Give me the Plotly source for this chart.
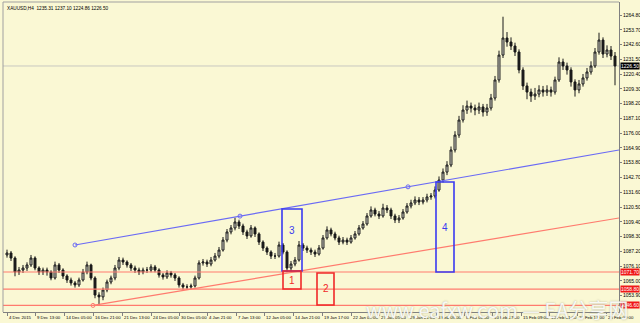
import plotly.graph_objects as go

# ---------------- data ----------------
closes = [1086.0, 1082.2, 1071.7, 1073.2, 1074.7, 1077.0, 1082.2, 1074.7, 1071.7, 1073.2,
          1071.7, 1067.2, 1077.0, 1073.2, 1068.7, 1065.7, 1063.5, 1062.0, 1065.7, 1071.7,
          1077.0, 1067.2, 1054.4, 1053.0, 1058.2, 1064.2, 1067.2, 1074.7, 1080.7, 1079.2,
          1077.0, 1074.7, 1073.2, 1071.7, 1073.2, 1073.2, 1075.5, 1073.2, 1069.5, 1068.0,
          1071.0, 1069.5, 1067.2, 1062.0, 1060.5, 1060.5, 1061.2, 1067.2, 1078.5, 1079.2,
          1077.7, 1080.7, 1083.7, 1088.2, 1095.7, 1101.8, 1104.8, 1109.3, 1106.3, 1101.8,
          1098.8, 1104.8, 1100.3, 1094.2, 1089.7, 1086.7, 1083.7, 1083.7, 1092.0, 1086.7,
          1074.7, 1077.7, 1080.7, 1092.0, 1089.7, 1088.2, 1086.7, 1085.2, 1089.7, 1097.3,
          1103.3, 1100.3, 1097.3, 1094.2, 1095.7, 1094.2, 1097.3, 1100.3, 1104.8, 1107.8,
          1113.8, 1118.3, 1115.3, 1113.8, 1119.8, 1118.3, 1113.8, 1110.8, 1112.3, 1116.8,
          1121.3, 1123.6, 1125.8, 1124.3, 1125.8, 1128.1, 1128.8, 1133.3, 1140.8, 1146.8,
          1152.1, 1163.4, 1174.6, 1185.9, 1193.4, 1196.4, 1194.9, 1193.4, 1195.7, 1191.9,
          1194.9, 1202.4, 1216.0, 1234.7, 1247.5, 1244.5, 1241.5, 1237.0, 1223.5, 1211.5,
          1206.9, 1203.9, 1205.4, 1208.5, 1206.9, 1208.5, 1206.9, 1216.0, 1229.5, 1226.5,
          1223.5, 1214.5, 1208.5, 1213.0, 1217.5, 1222.0, 1226.5, 1237.0, 1246.0, 1235.5,
          1238.5, 1234.0, 1226.5]
highs = [1088.5, 1087.5, 1083.5, 1075.5, 1077.0, 1079.0, 1084.5, 1083.5, 1076.0, 1075.0,
         1075.0, 1073.0, 1079.5, 1078.5, 1074.5, 1070.0, 1067.5, 1065.0, 1067.5, 1074.0,
         1079.5, 1078.0, 1068.5, 1056.5, 1060.0, 1066.0, 1069.0, 1077.0, 1083.0, 1082.5,
         1080.5, 1078.5, 1076.5, 1075.0, 1075.0, 1075.5, 1077.5, 1077.0, 1074.5, 1071.0,
         1073.0, 1072.5, 1071.0, 1068.5, 1063.5, 1062.5, 1063.0, 1069.0, 1080.5, 1081.5,
         1081.0, 1083.0, 1086.0, 1090.5, 1098.0, 1104.0, 1107.0, 1112.5, 1111.0, 1108.0,
         1103.5, 1107.0, 1106.0, 1101.5, 1095.5, 1091.0, 1088.0, 1086.0, 1094.5, 1093.5,
         1088.0, 1080.0, 1083.0, 1095.0, 1093.5, 1091.5, 1090.0, 1088.5, 1092.0, 1099.5,
         1106.0, 1105.0, 1102.0, 1099.0, 1098.0, 1097.5, 1099.5, 1102.5, 1107.0, 1110.0,
         1116.0, 1121.0, 1120.0, 1117.5, 1123.0, 1122.0, 1120.0, 1115.5, 1114.5, 1119.0,
         1123.5, 1126.0, 1128.5, 1128.0, 1128.0, 1130.5, 1131.0, 1136.0, 1143.5, 1149.5,
         1155.0, 1166.0, 1177.5, 1189.0, 1197.0, 1200.5, 1199.0, 1197.5, 1199.0, 1198.0,
         1198.0, 1205.5, 1219.0, 1238.0, 1263.5, 1252.0, 1248.0, 1244.0, 1239.0, 1225.5,
         1214.0, 1209.5, 1210.0, 1212.0, 1211.5, 1212.0, 1211.0, 1218.5, 1233.0, 1232.0,
         1229.0, 1225.5, 1216.5, 1216.0, 1220.5, 1225.0, 1230.0, 1240.0, 1251.5, 1248.0,
         1242.0, 1241.5, 1237.0]
lows = [1082.5, 1080.0, 1068.5, 1069.5, 1071.0, 1072.5, 1075.5, 1073.0, 1069.5, 1069.5,
        1069.0, 1065.5, 1066.0, 1071.0, 1066.5, 1063.5, 1061.5, 1060.0, 1060.5, 1064.5,
        1070.0, 1065.5, 1052.0, 1046.5, 1050.5, 1056.5, 1062.5, 1065.5, 1073.0, 1077.0,
        1075.0, 1072.5, 1071.0, 1069.5, 1070.0, 1071.0, 1071.5, 1071.5, 1067.5, 1066.0,
        1066.5, 1067.5, 1065.0, 1060.0, 1058.5, 1058.3, 1058.8, 1060.0, 1066.0, 1076.5,
        1075.5, 1076.0, 1079.5, 1082.0, 1087.0, 1094.0, 1100.0, 1103.0, 1104.0, 1099.5,
        1096.5, 1097.5, 1098.0, 1092.0, 1087.5, 1084.5, 1081.5, 1081.5, 1082.5, 1085.0,
        1071.5, 1072.5, 1076.0, 1079.5, 1087.5, 1086.0, 1084.5, 1083.0, 1084.0, 1088.5,
        1096.0, 1098.5, 1095.5, 1092.0, 1092.5, 1092.0, 1093.0, 1096.0, 1099.0, 1103.5,
        1106.5, 1112.5, 1113.5, 1111.5, 1112.5, 1116.0, 1111.5, 1108.5, 1108.5, 1111.0,
        1115.5, 1119.5, 1122.0, 1122.0, 1122.5, 1124.0, 1126.0, 1127.0, 1132.0, 1139.0,
        1144.5, 1150.5, 1161.5, 1172.5, 1184.0, 1190.5, 1191.5, 1189.5, 1190.5, 1188.5,
        1189.0, 1193.0, 1200.5, 1214.0, 1232.5, 1241.0, 1238.5, 1234.0, 1221.0, 1208.5,
        1201.5, 1199.5, 1201.0, 1203.0, 1203.5, 1204.0, 1203.5, 1205.0, 1214.5, 1223.5,
        1220.0, 1211.0, 1203.5, 1206.0, 1211.0, 1215.5, 1220.0, 1225.0, 1235.0, 1232.5,
        1233.0, 1231.0, 1212.0]
first_open = 1084.5

y_ticks = [1053.9, 1065.0, 1076.1, 1087.2, 1098.3, 1109.4, 1120.5, 1131.6, 1142.7, 1153.8,
           1164.9, 1176.0, 1187.1, 1198.2, 1209.3, 1220.4, 1231.5, 1242.6, 1253.7, 1264.8]

x_label_pos = [0, 7, 14.25, 21.5, 28.75, 36, 43, 50, 57.25, 64.25, 71.5, 78.75, 86, 93,
               100.25, 107.25, 114.25, 121.25, 128.5, 135.5, 142.5, 149.75]
x_labels = ["4 Dec 2015", "9 Dec 13:00", "14 Dec 05:00", "16 Dec 21:00", "21 Dec 13:00",
            "24 Dec 05:00", "30 Dec 05:00", "4 Jan 21:00", "7 Jan 13:00", "12 Jan 05:00",
            "14 Jan 21:00", "19 Jan 17:00", "22 Jan 09:00", "27 Jan 05:00", "29 Jan 21:00",
            "3 Feb 09:00", "8 Feb 01:00", "10 Feb 17:00", "15 Feb 09:00", "18 Feb 01:00",
            "22 Feb 17:00", "25 Feb 09:00"]

support_levels = [1071.7, 1058.8, 1046.6]
support_labels = ["1071.70", "1058.80", "1046.60"]
current_price = 1226.5
current_label = "1226.50"
header = "XAUUSD,H4  1235.31 1237.10 1224.86 1226.50"

blue_trend = [(17, 1092.0), (153, 1163.4)]
blue_anchors = [(17, 1092.0), (58.25, 1113.7), (100.25, 1135.7)]
red_trend = [(21.5, 1046.6), (153, 1112.3)]

# boxes: (x0, x1, y0, y1, color, label)
boxes = [(68.75, 73.75, 1072.5, 1119.0, "#3A3AF0", "3"),
         (69.0, 73.5, 1058.9, 1072.5, "#F02828", "1"),
         (77.5, 81.75, 1046.9, 1071.0, "#F02828", "2"),
         (107.25, 111.75, 1071.7, 1139.3, "#3A3AF0", "4")]

# ---------------- figure ----------------
idx = list(range(len(closes)))
opens = [first_open] + closes[:-1]

BG = "#FAF8D4"
FONT = "Liberation Sans"

fig = go.Figure()
fig.add_trace(go.Candlestick(
    x=idx, open=opens, high=highs, low=lows, close=closes,
    increasing=dict(line=dict(color="#1A1A1A", width=1), fillcolor="#E6E6DA"),
    decreasing=dict(line=dict(color="#1A1A1A", width=1), fillcolor="#1A1A1A"),
    whiskerwidth=0, showlegend=False, hoverinfo="skip"))

shapes = []
shapes.append(dict(type="line", xref="paper", x0=0, x1=1, yref="y", y0=current_price,
                   y1=current_price, line=dict(color="#C8C8C0", width=1), layer="below"))
for lv in support_levels:
    shapes.append(dict(type="line", xref="paper", x0=0, x1=1, yref="y", y0=lv, y1=lv,
                       line=dict(color="#FF7B6E", width=1.2)))
shapes.append(dict(type="line", x0=blue_trend[0][0], y0=blue_trend[0][1],
                   x1=blue_trend[1][0], y1=blue_trend[1][1],
                   line=dict(color="#6A6AF5", width=1.2)))
shapes.append(dict(type="line", x0=red_trend[0][0], y0=red_trend[0][1],
                   x1=red_trend[1][0], y1=red_trend[1][1],
                   line=dict(color="#FF7B6E", width=1.2)))
annotations = []
for x0, x1, y0, y1, col, lab in boxes:
    shapes.append(dict(type="rect", x0=x0, x1=x1, y0=y0, y1=y1,
                       line=dict(color=col, width=1.6), fillcolor="rgba(0,0,0,0)"))
    ymid = (y0 + y1) / 2 if lab != "3" else y0 + (y1 - y0) * 0.65
    annotations.append(dict(x=(x0 + x1) / 2, y=ymid, text=lab, showarrow=False,
                            font=dict(family=FONT, size=10, color=col)))

fig.add_trace(go.Scatter(x=[p[0] for p in blue_anchors], y=[p[1] for p in blue_anchors],
                         mode="markers", marker=dict(symbol="circle-open", size=4,
                         color="#6A6AF5", line=dict(width=1)), showlegend=False,
                         hoverinfo="skip"))
fig.add_trace(go.Scatter(x=[red_trend[0][0]], y=[red_trend[0][1]], mode="markers",
                         marker=dict(symbol="circle-open", size=4, color="#FF7B6E",
                                     line=dict(width=1)),
                         showlegend=False, hoverinfo="skip"))

for xp, txt in zip(x_label_pos, x_labels):
    annotations.append(dict(x=xp, xref="x", y=0, yref="paper", yanchor="top",
                            xanchor="left", yshift=-1, xshift=0, text=txt, showarrow=False,
                            font=dict(family=FONT, size=4.3, color="#000000")))
for lv, txt in zip(support_levels, support_labels):
    annotations.append(dict(x=1, xref="paper", y=lv, yref="y", xanchor="left",
                            xshift=1, text=txt, showarrow=False, bgcolor="#F01818",
                            borderpad=0, font=dict(family=FONT, size=5, color="#FFFFFF")))
annotations.append(dict(x=1, xref="paper", y=current_price, yref="y", xanchor="left",
                        xshift=1, text=current_label, showarrow=False, bgcolor="#000000",
                        borderpad=0, font=dict(family=FONT, size=5, color="#FFFFFF")))
annotations.append(dict(x=0, xref="paper", y=1, yref="paper", xanchor="left",
                        yanchor="top", xshift=2, yshift=-2, text=header, showarrow=False,
                        font=dict(family=FONT, size=4.7, color="#000000")))
annotations.append(dict(x=1, xref="paper", y=0, yref="paper", xanchor="right",
                        yanchor="bottom", xshift=12, yshift=-14,
                        text="www.eafxw.com — EA分享网", showarrow=False,
                        font=dict(family="Noto Sans CJK SC", size=20,
                                  color="rgba(255,255,255,0.9)",
                                  shadow="0px 0px 2px #A8A890")))

fig.update_layout(
    width=640, height=323,
    margin=dict(l=3, r=21, t=2, b=11),
    paper_bgcolor=BG, plot_bgcolor=BG,
    shapes=shapes, annotations=annotations,
    xaxis=dict(range=[-1, 153], rangeslider=dict(visible=False), showgrid=False,
               zeroline=False, showline=True, linecolor="#808080", linewidth=1,
               mirror=False, tickmode="array", tickvals=x_label_pos,
               showticklabels=False, ticks="outside", ticklen=3, tickcolor="#808080"),
    yaxis=dict(range=[1041.66, 1274.57], side="right", showgrid=False, zeroline=False,
               showline=True, linecolor="#808080", linewidth=1, tickmode="array",
               tickvals=y_ticks, ticktext=["%.2f" % v for v in y_ticks],
               ticks="outside", ticklen=2, tickcolor="#808080",
               tickfont=dict(family=FONT, size=5, color="#000000"), automargin=False),
)
fig.add_shape(type="line", xref="paper", yref="paper", x0=0, x1=0, y0=0, y1=1,
              line=dict(color="#A0A0A0", width=1))
fig.add_shape(type="line", xref="paper", yref="paper", x0=0, x1=1, y0=1, y1=1,
              line=dict(color="#A0A0A0", width=1))

fig.write_html("out.html")
